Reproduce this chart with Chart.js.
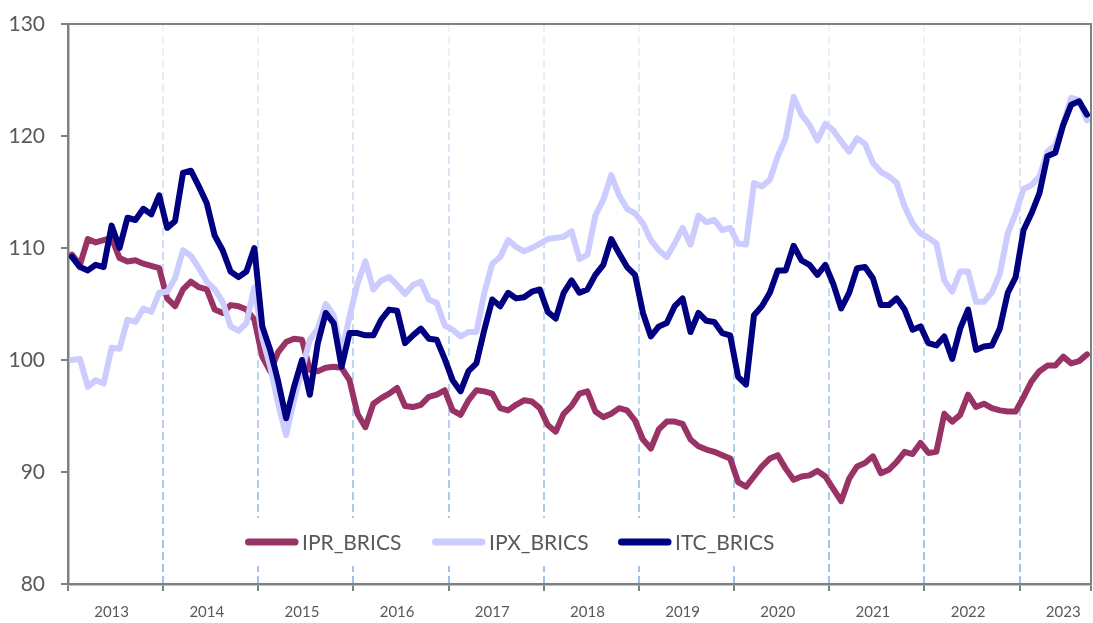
<!DOCTYPE html>
<html>
<head>
<meta charset="utf-8">
<script src="https://cdn.jsdelivr.net/npm/chart.js@4.4.0/dist/chart.umd.min.js"></script>
<style>
  html, body { margin: 0; padding: 0; background: #fff; }
  #wrap { width: 1093px; height: 623px; position: relative; }
</style>
</head>
<body>
<div id="wrap"><canvas id="myChart"></canvas></div>
<script>
// monthly, Jan 2013 .. Sep 2023
var years = ["2013", "2014", "2015", "2016", "2017", "2018", "2019", "2020", "2021", "2022", "2023"];
var yTicks = [80, 90, 100, 110, 120, 130];

var ipr = [109.4, 108.5, 110.8, 110.5, 110.7, 110.9, 109.1, 108.8, 108.9, 108.6, 108.4, 108.2,
  105.5, 104.8, 106.3, 107.0, 106.5, 106.3, 104.5, 104.2, 104.9, 104.8, 104.5, 103.6,
  100.3, 99.0, 100.7, 101.6, 101.9, 101.8, 99.1, 99.0, 99.3, 99.4, 99.3, 98.2,
  95.2, 94.0, 96.1, 96.6, 97.0, 97.5, 95.9, 95.8, 96.0, 96.7, 96.9, 97.3,
  95.5, 95.1, 96.4, 97.3, 97.2, 97.0, 95.7, 95.5, 96.0, 96.4, 96.3, 95.7,
  94.2, 93.6, 95.2, 95.9, 97.0, 97.2, 95.4, 94.9, 95.2, 95.7, 95.5, 94.6,
  92.9, 92.1, 93.8, 94.5, 94.5, 94.3, 92.9, 92.3, 92.0, 91.8, 91.5, 91.2,
  89.1, 88.7, 89.6, 90.5, 91.2, 91.5, 90.3, 89.3, 89.6, 89.7, 90.1, 89.6,
  88.5, 87.4, 89.4, 90.5, 90.8, 91.4, 89.9, 90.2, 90.9, 91.8, 91.6, 92.6,
  91.7, 91.8, 95.2, 94.5, 95.1, 96.9, 95.8, 96.1, 95.7, 95.5, 95.4, 95.4,
  96.7, 98.1, 99.0, 99.5, 99.5, 100.3, 99.7, 99.9, 100.5];

var ipx = [100.0, 100.1, 97.6, 98.2, 97.9, 101.1, 101.0, 103.6, 103.4, 104.6, 104.3, 106.0,
  106.1, 107.3, 109.8, 109.3, 108.2, 107.0, 106.3, 105.2, 103.0, 102.6, 103.3, 106.5,
  102.0, 99.4, 96.1, 93.3, 96.4, 99.1, 101.8, 102.8, 105.0, 104.0, 100.6, 103.9,
  106.8, 108.8, 106.3, 107.1, 107.4, 106.7, 105.9, 106.7, 107.0, 105.4, 105.1, 103.1,
  102.7, 102.1, 102.5, 102.5, 106.0, 108.6, 109.2, 110.7, 110.1, 109.7, 110.0, 110.4,
  110.8, 110.9, 111.0, 111.5, 109.0, 109.4, 112.9, 114.3, 116.5, 114.7, 113.5, 113.1,
  112.2, 110.7, 109.8, 109.2, 110.4, 111.8, 110.3, 112.9, 112.3, 112.5, 111.6, 111.8,
  110.4, 110.3, 115.8, 115.5, 116.1, 118.2, 119.8, 123.5, 121.9, 121.0, 119.6, 121.1,
  120.5, 119.5, 118.6, 119.8, 119.3, 117.6, 116.8, 116.4, 115.8, 113.7, 112.2, 111.3,
  110.9, 110.4, 107.1, 106.1, 107.9, 107.9, 105.2, 105.2, 106.0, 107.7, 111.3, 113.1,
  115.3, 115.6, 116.4, 118.6, 119.2, 121.1, 123.4, 123.2, 121.4];

var itc = [109.2, 108.3, 108.0, 108.5, 108.3, 112.0, 110.0, 112.7, 112.5, 113.5, 113.0, 114.7,
  111.8, 112.4, 116.7, 116.9, 115.5, 114.0, 111.1, 109.8, 107.9, 107.4, 107.9, 110.0,
  103.0, 100.9, 98.1, 94.8, 97.6, 100.0, 96.9, 101.5, 104.2, 103.3, 99.4, 102.4,
  102.4, 102.2, 102.2, 103.6, 104.5, 104.4, 101.5, 102.2, 102.8, 101.9, 101.8, 100.1,
  98.2, 97.2, 99.0, 99.7, 102.7, 105.4, 104.8, 106.0, 105.5, 105.6, 106.1, 106.3,
  104.3, 103.7, 106.0, 107.1, 106.0, 106.3, 107.6, 108.5, 110.8, 109.5, 108.3, 107.6,
  104.2, 102.1, 103.0, 103.3, 104.8, 105.5, 102.5, 104.2, 103.5, 103.4, 102.4, 102.2,
  98.5, 97.8, 104.0, 104.8, 106.0, 108.0, 108.0, 110.2, 108.9, 108.5, 107.6, 108.5,
  106.8, 104.6, 106.0, 108.2, 108.3, 107.3, 104.9, 104.9, 105.5, 104.5, 102.7, 103.0,
  101.5, 101.3, 102.1, 100.1, 102.8, 104.5, 100.9, 101.2, 101.3, 102.8, 106.0, 107.4,
  111.6, 113.1, 114.9, 118.2, 118.5, 121.0, 122.8, 123.1, 121.9];

function toPoints(arr) {
  return arr.map(function (v, i) { return {x: i, y: v}; });
}

function isBoundary(v) {
  return (v + 0.5) % 12 === 0 || v === ipr.length - 0.5;
}

var gridGrad = null;
function gridColor(c) {
  var v = c.tick ? c.tick.value : null;
  if (v === null || !isBoundary(v) || v <= 0 || v >= ipr.length - 1) return 'rgba(0,0,0,0)';
  var area = c.chart.chartArea;
  if (!area) return '#c6d9ef';
  if (!gridGrad) {
    gridGrad = c.chart.ctx.createLinearGradient(0, area.top, 0, area.bottom);
    gridGrad.addColorStop(0, '#edf3fa');
    gridGrad.addColorStop(1, '#a3c1e4');
  }
  return gridGrad;
}

// legend drawn inside the plot, like the original
var innerLegend = {
  id: 'innerLegend',
  beforeDatasetsDraw: function (chart) {
    var ctx = chart.ctx;
    var sx = [245, 432, 618];
    ctx.save();
    ctx.fillStyle = '#ffffff';
    ctx.fillRect(232, 518, 558, 48);
    ctx.font = '21px Lato';
    ctx.textBaseline = 'middle';
    chart.data.datasets.forEach(function (ds, i) {
      ctx.strokeStyle = ds.borderColor;
      ctx.lineWidth = 7;
      ctx.lineCap = 'round';
      ctx.beginPath();
      ctx.moveTo(sx[i] + 3.5, 542);
      ctx.lineTo(sx[i] + 50, 542);
      ctx.stroke();
      ctx.fillStyle = '#595959';
      ctx.fillText(ds.label, sx[i] + 57, 543);
    });
    ctx.restore();
  },
  afterDatasetsDraw: function (chart) {
    var a = chart.chartArea;
    var ctx = chart.ctx;
    ctx.save();
    ctx.strokeStyle = '#808080';
    ctx.lineWidth = 2;
    ctx.beginPath();
    ctx.moveTo(a.left, a.top);
    ctx.lineTo(a.right, a.top);
    ctx.lineTo(a.right, a.bottom);
    ctx.stroke();
    ctx.restore();
  }
};

function renderChart() {
  var ctx = document.getElementById("myChart").getContext('2d');
  new Chart(ctx, {
    type: 'line',
    data: {
      datasets: [{
        label: 'IPR_BRICS',
        data: toPoints(ipr),
        borderColor: '#993366',
        order: 2
      }, {
        label: 'IPX_BRICS',
        data: toPoints(ipx),
        borderColor: '#CCCCFF',
        order: 1
      }, {
        label: 'ITC_BRICS',
        data: toPoints(itc),
        borderColor: '#000080',
        order: 0
      }]
    },
    options: {
      responsive: true,
      maintainAspectRatio: false,
      animation: false,
      devicePixelRatio: 1,
      layout: { autoPadding: false, padding: { top: 24, right: 2, left: 0, bottom: 0 } },
      elements: {
        point: { radius: 0 },
        line: { borderWidth: 6, tension: 0, borderJoinStyle: 'round', borderCapStyle: 'round' }
      },
      plugins: {
        legend: { display: false },
        tooltip: { enabled: false }
      },
      scales: {
        x: {
          type: 'linear',
          min: -0.5,
          max: ipr.length - 0.5,
          afterFit: function (s) {
            s.height = 39;
            s.paddingLeft = 0;
            s.paddingRight = 0;
          },
          afterBuildTicks: function (s) {
            var t = [];
            for (var k = 0; k < years.length; k++) {
              t.push({value: k * 12 - 0.5});
              t.push({value: k * 12 + 5});
            }
            t.push({value: ipr.length - 0.5});
            s.ticks = t;
          },
          grid: {
            color: gridColor,
            lineWidth: 2,
            drawTicks: true,
            tickLength: 7,
            tickWidth: 2,
            tickColor: function (c) {
              return c.tick && isBoundary(c.tick.value) ? '#808080' : 'rgba(0,0,0,0)';
            }
          },
          border: { display: true, color: '#808080', width: 2.5, dash: [8, 4] },
          ticks: {
            autoSkip: false,
            maxRotation: 0,
            padding: 12,
            color: '#595959',
            font: { family: 'Lato', size: 15 },
            callback: function (value) {
              var r = value - 5;
              return r % 12 === 0 ? years[r / 12] : '';
            }
          }
        },
        y: {
          min: yTicks[0],
          max: yTicks[yTicks.length - 1],
          afterFit: function (s) {
            s.width = 68;
            s.paddingTop = 0;
            s.paddingBottom = 0;
          },
          afterBuildTicks: function (s) {
            s.ticks = yTicks.map(function (v) { return {value: v}; });
          },
          grid: {
            drawOnChartArea: false,
            drawTicks: true,
            tickLength: 7,
            color: '#808080',
            lineWidth: 2
          },
          border: { display: true, color: '#808080', width: 2.5 },
          ticks: {
            padding: 16,
            color: '#595959',
            font: { family: 'Lato', size: 21 }
          }
        }
      }
    },
    plugins: [innerLegend]
  });
}

window.onload = function () {
  renderChart();
};
</script>
</body>
</html>
